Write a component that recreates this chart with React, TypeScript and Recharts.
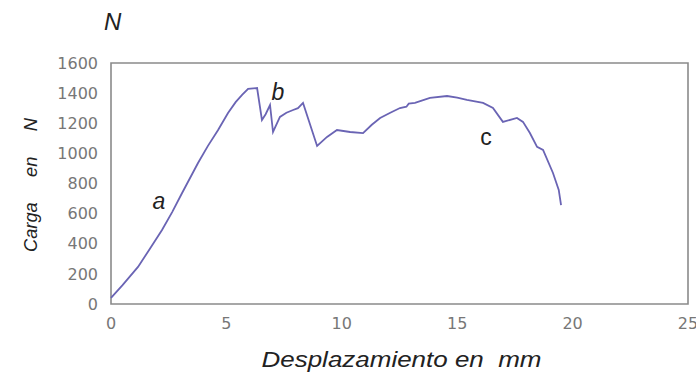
import { LineChart, Line, XAxis, YAxis, ReferenceArea, ReferenceDot } from "recharts";

// displacement (mm) and load (N) along the test curve
const desplazamiento = [
  0, 0.5, 1.17, 1.7, 2.21, 2.65, 3.08, 3.77, 4.2, 4.64, 5.07, 5.4, 5.68, 5.94, 6.33,
  6.54, 6.7, 6.89, 7.02, 7.32, 7.6, 7.89, 8.1, 8.32, 8.93, 9.36, 9.79, 10.36, 10.92,
  11.3, 11.66, 12.1, 12.52, 12.8, 12.9, 13.17, 13.82, 14.56, 15.0, 15.42, 16.12, 16.55,
  16.98, 17.59, 17.85, 18.15, 18.46, 18.72, 19.15, 19.4, 19.5,
];
const carga = [
  40, 125, 246, 370, 491, 610, 737, 936, 1050, 1155, 1268, 1340, 1388, 1428, 1434,
  1222, 1260, 1321, 1142, 1242, 1270, 1288, 1300, 1335, 1049, 1109, 1155, 1142, 1135,
  1190, 1235, 1270, 1301, 1310, 1330, 1335, 1368, 1381, 1370, 1355, 1335, 1301,
  1209, 1235, 1209, 1135, 1043, 1023, 870, 757, 657,
];

const xTicks = [0, 5, 10, 15, 20, 25];
const yTicks = [0, 200, 400, 600, 800, 1000, 1200, 1400, 1600];

// zones marked on the curve
const zonas = [
  { name: "a", x: 2.08, y: 685, italic: true },
  { name: "b", x: 7.23, y: 1410, italic: true },
  { name: "c", x: 16.25, y: 1110, italic: false },
];

const data = desplazamiento.map((d, i) => ({ d, carga: carga[i] }));

const tickStyle = { fill: "#777", fontSize: 16, fontFamily: "DejaVu Sans, sans-serif" };
const titleFont = "Liberation Sans, Arial, sans-serif";

const XTitle = (props: any) => {
  const vb = props.viewBox || { x: 111, y: 304, width: 577, height: 30 };
  return (
    <text
      x={vb.x + vb.width / 2 + 2}
      y={367}
      textAnchor="middle"
      textLength={280}
      lengthAdjust="spacingAndGlyphs"
      fill="#222"
      fontSize={22}
      fontStyle="italic"
      fontFamily={titleFont}
      style={{ whiteSpace: "pre" }}
    >
      {"Desplazamiento en  mm"}
    </text>
  );
};

const YTitle = () => (
  <text
    x={37}
    y={185}
    transform="rotate(-90, 37, 185)"
    textAnchor="middle"
    textLength={134}
    lengthAdjust="spacingAndGlyphs"
    fill="#222"
    fontSize={19}
    fontStyle="italic"
    fontFamily={titleFont}
    style={{ whiteSpace: "pre" }}
  >
    {"Carga     en     N"}
  </text>
);

export default function App() {
  return (
    <div style={{ position: "absolute", left: 0, top: 0, width: 696, height: 375, background: "#fff" }}>
      <div
        style={{
          position: "absolute",
          left: 104,
          top: 8,
          fontFamily: titleFont,
          fontStyle: "italic",
          fontSize: 24,
          lineHeight: "28px",
          color: "#222",
        }}
      >
        N
      </div>
      <LineChart width={696} height={375} data={data} margin={{ top: 63, right: 8, bottom: 41, left: 51 }}>
        <XAxis
          dataKey="d"
          type="number"
          domain={[0, 25]}
          ticks={xTicks}
          axisLine={false}
          tickLine={false}
          tickMargin={8}
          tick={tickStyle}
          height={30}
          label={{ content: XTitle }}
        />
        <YAxis
          type="number"
          domain={[0, 1600]}
          ticks={yTicks}
          axisLine={false}
          tickLine={false}
          tickMargin={7}
          tick={tickStyle}
          width={60}
          label={{ content: YTitle }}
        />
        <ReferenceArea x1={0} x2={25} y1={0} y2={1600} fill="none" stroke="#8a8a8a" strokeWidth={1.6} />
        <Line
          type="linear"
          dataKey="carga"
          stroke="#6a64b4"
          strokeWidth={1.8}
          dot={false}
          isAnimationActive={false}
        />
        {zonas.map((z) => (
          <ReferenceDot
            key={z.name}
            x={z.x}
            y={z.y}
            r={0}
            stroke="none"
            label={{
              value: z.name,
              position: "center",
              style: {
                fill: "#222",
                fontSize: 23,
                fontStyle: z.italic ? "italic" : "normal",
                fontFamily: titleFont,
              },
            }}
          />
        ))}
      </LineChart>
    </div>
  );
}
